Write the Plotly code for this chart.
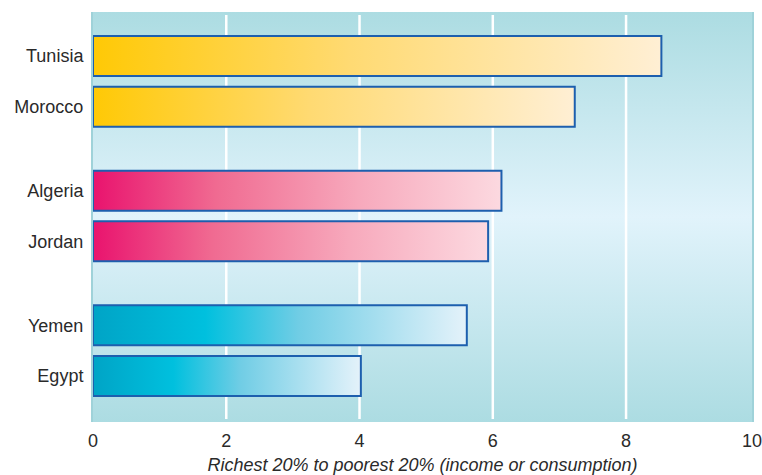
import plotly.graph_objects as go

# ---- data ----
countries = ["Tunisia", "Morocco", "Algeria", "Jordan", "Yemen", "Egypt"]
ratios = [8.53, 7.23, 6.13, 5.93, 5.61, 4.02]
groups = [0, 0, 1, 1, 2, 2]
x_tickvals = [0, 2, 4, 6, 8, 9.89]
x_ticktext = ["0", "2", "4", "6", "8", "10"]
grid_vals = [2, 4, 6, 8]
x_title = "Richest 20% to poorest 20% (income or consumption)"

# ---- styles ----
group_scales = [
    [[0, "#ffc905"], [0.45, "#ffda72"], [1, "#ffefd4"]],
    [[0, "#e9136e"], [0.3, "#f06a91"], [0.65, "#f7a9bc"], [1, "#fcd9e0"]],
    [[0, "#00a4c6"], [0.3, "#00c0de"], [0.55, "#70cde5"], [1, "#e4f2fa"]],
]
outline = "#1d5fae"
gap = 0.66
half_h = 0.395
x_max = 9.89
y_top, y_bot = -0.87, 7.23

positions = [i + gap * g for i, g in enumerate(groups)]

fig = go.Figure()

# background gradient
fig.add_trace(go.Scatter(
    x=[0, x_max, x_max, 0, 0], y=[y_top, y_top, y_bot, y_bot, y_top],
    mode="lines", line=dict(width=0), fill="toself",
    fillgradient=dict(type="vertical", start=y_top, stop=y_bot,
                      colorscale=[[0, "#acdce2"], [0.5, "#e1f3fb"], [1, "#acdce2"]]),
    hoverinfo="skip", showlegend=False))

# white gridlines
for gv in grid_vals:
    fig.add_trace(go.Scatter(
        x=[gv, gv], y=[y_top + 0.06, y_bot - 0.06], mode="lines",
        line=dict(color="white", width=2.5), hoverinfo="skip", showlegend=False))

# gradient bars
for c, v, g, p in zip(countries, ratios, groups, positions):
    fig.add_trace(go.Scatter(
        x=[0, v, v, 0, 0], y=[p - half_h, p - half_h, p + half_h, p + half_h, p - half_h],
        mode="lines", line=dict(color=outline, width=2), fill="toself",
        fillgradient=dict(type="horizontal", start=0, stop=v, colorscale=group_scales[g]),
        name=c, hoverinfo="skip", showlegend=False))

fig.update_layout(
    width=762, height=475,
    margin=dict(l=93, r=10, t=12, b=53, autoexpand=False),
    paper_bgcolor="white", plot_bgcolor="rgba(0,0,0,0)",
    font=dict(family="Liberation Sans, Arial, sans-serif", size=18, color="#2a2a2a"),
    showlegend=False,
)
fig.update_xaxes(
    range=[0, x_max], tickvals=x_tickvals, ticktext=x_ticktext,
    showgrid=False, zeroline=False, showline=False, automargin=False,
    ticks="outside", ticklen=2, tickcolor="rgba(0,0,0,0)", ticklabeloverflow="allow",
    title=dict(text=x_title, font=dict(size=18, style="italic"), standoff=12),
)
fig.update_yaxes(
    range=[y_bot, y_top], tickvals=positions, ticktext=countries,
    showgrid=False, zeroline=False, automargin=False,
    showline=True, mirror=True, linecolor="#9fd2d9", linewidth=2,
    ticks="outside", ticklen=4, tickcolor="rgba(0,0,0,0)",
)

fig.write_html("out.html", config={"displayModeBar": False},
               post_script="document.body.style.margin='0';")
